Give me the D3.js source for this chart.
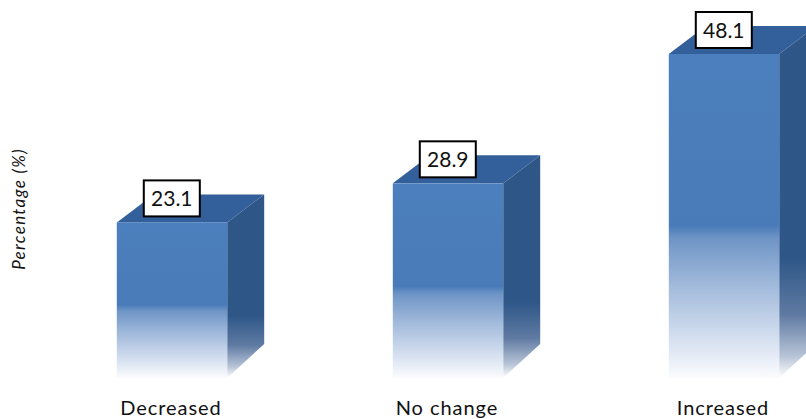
<!DOCTYPE html>
<html><head><meta charset="utf-8">
<script src="https://cdn.jsdelivr.net/npm/d3@7/dist/d3.min.js"></script>
<style>html,body{margin:0;padding:0;background:#fff}svg{display:block}text{font-family:Lato,"Open Sans",sans-serif;fill:#111}</style>
</head><body><svg id="c" width="806" height="419"></svg>
<script>
const categories = ["Decreased","No change","Increased"];
const percentages = [23.1,28.9,48.1];
const yAxisTitle = "Percentage (%)";

const svg = d3.select("#c");
const x = d3.scaleBand().domain(categories).range([34,862]).paddingInner(0.6).paddingOuter(0.3);
const y = d3.scaleLinear().domain([0,48.1]).range([378,54]);
const dx = 37, dy = 28;
const defs = svg.append("defs");
const g1 = defs.append("linearGradient").attr("id","front").attr("x1",0).attr("y1",0).attr("x2",0).attr("y2",1);
[[0,"#4c7fbd"],[.53,"#4a7bb9"],[.57,"#6f95c6"],[.72,"#a3bbdc"],[.9,"#dbe4f2"],[1,"#fbfcfe"]].forEach(s=>g1.append("stop").attr("offset",s[0]).attr("stop-color",s[1]));
const g2 = defs.append("linearGradient").attr("id","side").attr("x1",0).attr("y1",0).attr("x2",0).attr("y2",1);
[[0,"#2e5788"],[.66,"#2e5788"],[.82,"#5f7aa2"],[.94,"#b9c5d8"],[1,"#ffffff"]].forEach(s=>g2.append("stop").attr("offset",s[0]).attr("stop-color",s[1]));

const bars = svg.selectAll("g.bar").data(categories.map((c,i)=>({c,v:percentages[i]}))).join("g").attr("class","bar");
const bw = x.bandwidth();
const line = d3.line();
bars.append("path").attr("fill","#33609a").attr("d",d=>{
  const l=x(d.c),t=y(d.v);
  return line([[l,t],[l+dx,t-dy],[l+bw+dx,t-dy],[l+bw,t]])+"Z";
});
bars.append("path").attr("fill","url(#side)").attr("d",d=>{
  const l=x(d.c),t=y(d.v),b=y(0);
  return line([[l+bw,t],[l+bw+dx,t-dy],[l+bw+dx,b-dy-6],[l+bw,b]])+"Z";
});
bars.append("rect").attr("fill","url(#front)").attr("x",d=>x(d.c)).attr("y",d=>y(d.v)).attr("width",bw).attr("height",d=>y(0)-y(d.v));
bars.append("rect").attr("x",d=>x(d.c)+27).attr("y",d=>y(d.v)-42).attr("width",56).attr("height",36)
  .attr("fill","#fff").attr("stroke","#000").attr("stroke-width",2);
bars.append("text").attr("x",d=>x(d.c)+55).attr("y",d=>y(d.v)-16).attr("text-anchor","middle")
  .attr("font-size",21).text(d=>d.v.toFixed(1));
bars.append("text").attr("x",d=>x(d.c)+bw/2-1).attr("y",415).attr("text-anchor","middle")
  .attr("font-size",20).attr("letter-spacing",0.95).text(d=>d.c);
svg.append("text").attr("transform","translate(25,209) rotate(-90)").attr("text-anchor","middle")
  .attr("font-size",17).attr("letter-spacing",1.3).attr("font-style","italic").text(yAxisTitle);
</script></body></html>
